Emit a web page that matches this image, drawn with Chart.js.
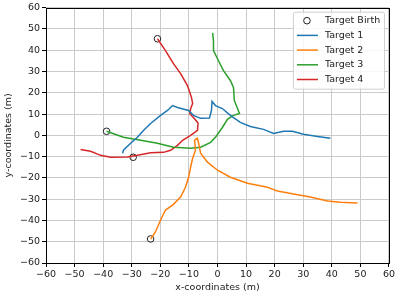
<!DOCTYPE html>
<html>
<head>
<meta charset="utf-8">
<script src="https://cdn.jsdelivr.net/npm/chart.js@4"></script>
<style>
  html, body { margin: 0; padding: 0; background: #fff; }
  #wrap { width: 397px; height: 296px; }
</style>
</head>
<body>
<div id="wrap"><canvas id="chart" width="397" height="296"></canvas></div>
<script>
// data (metres)
const target1X = [-33.2, -32.9, -30.4, -28, -25.9, -23.4, -19.9, -17.5, -15.7, -14, -10.1, -8.4, -5.9, -2.8, -2.1, -1.9, -0.7, 1.7, 4.5, 8, 11.5, 16.1, 19.6, 23.1, 26.2, 30.1, 35, 39.5];
const target1Y = [-8.4, -7, -3.7, -0.9, 2.3, 5.6, 9.4, 11.7, 14, 13.1, 11.7, 9.4, 8, 8.2, 11.7, 15.9, 14, 12.6, 9.4, 6.1, 4.2, 2.8, 0.9, 1.9, 1.9, 0.5, -0.5, -1.4];

const target2X = [-23.4, -21.7, -19.9, -18.2, -15.7, -12.9, -11.2, -10.1, -9.4, -8.7, -7.7, -8, -7, -6.6, -5.9, -3.5, 0, 4.5, 10.5, 17.5, 21, 26.6, 32.5, 38.5, 43, 49];
const target2Y = [-48.7, -45.4, -39.8, -35.1, -32.8, -29, -24.4, -19.7, -15, -10.8, -7, -2.3, -1.4, -3.7, -8.4, -12.6, -16.4, -19.7, -22.5, -24.4, -26.2, -27.6, -29, -30.9, -31.4, -31.8];

const target3X = [-38.8, -32.9, -26.9, -21, -15.4, -9.4, -5.9, -2.4, -0.5, 1.7, 3.5, 5.6, 7.7, 7, 5.9, 5.6, 4.5, 2.1, 0, -1.4, -1.4, -1.7];
const target3Y = [1.9, -0.9, -2.3, -3.7, -5.6, -6.1, -5.6, -3.3, -0.5, 3.7, 7.5, 9.4, 10.3, 12.6, 16.4, 22.5, 25.8, 30.4, 36, 39.8, 44.5, 48.2];

const target4X = [-21, -18.2, -15.4, -12.9, -10.5, -9.1, -8.7, -9.4, -9.7, -8.4, -6.8, -7, -9.4, -12.2, -14, -16.4, -18.9, -23.4, -28, -31.5, -37.4, -40.9, -44.4, -47.9];
const target4Y = [45.4, 39.8, 33.7, 29, 23.4, 17.8, 15, 12.5, 10.2, 8.4, 5.8, 2.3, 0, -2.3, -4.7, -7, -8, -8.2, -9.4, -10.2, -10.3, -9.4, -7.5, -6.6];

const birthX = [-21, -29.5, -38.8, -23.4];
const birthY = [45.4, -10.3, 1.9, -48.7];

const axisMin = -60;
const axisMax = 60;
const tickStep = 10;

function toPoints(xs, ys) {
  return xs.map((x, i) => ({ x: x, y: ys[i] }));
}

function trackDataset(label, xs, ys, color) {
  return {
    label: label,
    data: toPoints(xs, ys),
    showLine: true,
    borderColor: color,
    backgroundColor: color,
    borderWidth: 1.5,
    pointRadius: 0,
    tension: 0
  };
}

const FONT = 'DejaVu Sans';
const FONT_SIZE = 9.5;
const minus = v => String(v).replace('-', '\u2212');

// matplotlib style frame around the plot area
const framePlugin = {
  id: 'frame',
  afterDatasetsDraw(chart) {
    const a = chart.chartArea;
    const ctx = chart.ctx;
    ctx.save();
    ctx.strokeStyle = '#000';
    ctx.lineWidth = 1;
    ctx.strokeRect(Math.round(a.left) + 0.5, Math.round(a.top) + 0.5,
      Math.round(a.right - a.left), Math.round(a.bottom - a.top));
    ctx.restore();
  }
};

// legend box in the upper right corner
const legendPlugin = {
  id: 'boxLegend',
  afterDraw(chart) {
    const ctx = chart.ctx;
    const a = chart.chartArea;
    const w = 91, h = 77;
    const x0 = a.right - 5 - w, y0 = a.top + 4;
    ctx.save();
    ctx.beginPath();
    ctx.roundRect(x0 + 0.5, y0 + 0.5, w, h, 2);
    ctx.fillStyle = 'rgba(255,255,255,0.85)';
    ctx.fill();
    ctx.strokeStyle = '#d0d0d0';
    ctx.lineWidth = 1;
    ctx.stroke();

    ctx.font = FONT_SIZE + 'px "' + FONT + '"';
    ctx.textBaseline = 'middle';
    ctx.textAlign = 'left';
    const order = [4, 0, 1, 2, 3];
    order.forEach((di, i) => {
      const ds = chart.data.datasets[di];
      const y = y0 + 9 + i * 14.7;
      if (di === 4) {
        ctx.beginPath();
        ctx.arc(x0 + 14, y, 3.3, 0, Math.PI * 2);
        ctx.strokeStyle = '#222';
        ctx.lineWidth = 1;
        ctx.stroke();
      } else {
        ctx.beginPath();
        ctx.moveTo(x0 + 4, y);
        ctx.lineTo(x0 + 25, y);
        ctx.strokeStyle = ds.borderColor;
        ctx.lineWidth = 1.5;
        ctx.stroke();
      }
      ctx.fillStyle = '#222';
      ctx.fillText(ds.label, x0 + 32, y);
    });
    ctx.restore();
  }
};

const ctx = document.getElementById('chart').getContext('2d');
new Chart(ctx, {
  type: 'scatter',
  data: {
    datasets: [
      trackDataset('Target 1', target1X, target1Y, '#1f77b4'),
      trackDataset('Target 2', target2X, target2Y, '#ff7f0e'),
      trackDataset('Target 3', target3X, target3Y, '#2ca02c'),
      trackDataset('Target 4', target4X, target4Y, '#d62728'),
      {
        label: 'Target Birth',
        data: toPoints(birthX, birthY),
        showLine: false,
        pointRadius: 3.3,
        pointBorderWidth: 1,
        pointBorderColor: '#222',
        pointBackgroundColor: 'rgba(0,0,0,0)'
      }
    ]
  },
  options: {
    responsive: false,
    animation: false,
    devicePixelRatio: 1,
    layout: { padding: { top: 7, right: 8, left: 0, bottom: 0 } },
    plugins: {
      legend: { display: false },
      tooltip: { enabled: false }
    },
    scales: {
      x: {
        type: 'linear',
        min: axisMin,
        max: axisMax,
        afterFit: s => { s.height = 33; },
        border: { display: false },
        grid: { color: '#cbcbcb', lineWidth: 1, tickColor: '#000', tickLength: 4 },
        ticks: {
          stepSize: tickStep,
          color: '#222',
          padding: 2,
          maxRotation: 0,
          font: { family: FONT, size: FONT_SIZE },
          callback: v => minus(v)
        },
        title: {
          display: true,
          text: 'x-coordinates (m)',
          color: '#222',
          font: { family: FONT, size: FONT_SIZE },
          padding: { top: 1, bottom: 3 }
        }
      },
      y: {
        type: 'linear',
        min: axisMin,
        max: axisMax,
        afterFit: s => { s.width = 46; },
        border: { display: false },
        grid: { color: '#cbcbcb', lineWidth: 1, tickColor: '#000', tickLength: 4 },
        ticks: {
          stepSize: tickStep,
          color: '#222',
          padding: 2,
          font: { family: FONT, size: FONT_SIZE },
          callback: v => minus(v)
        },
        title: {
          display: true,
          text: 'y-coordinates (m)',
          color: '#222',
          font: { family: FONT, size: FONT_SIZE },
          padding: { top: 3, bottom: 0 }
        }
      }
    }
  },
  plugins: [framePlugin, legendPlugin]
});
</script>
</body>
</html>
